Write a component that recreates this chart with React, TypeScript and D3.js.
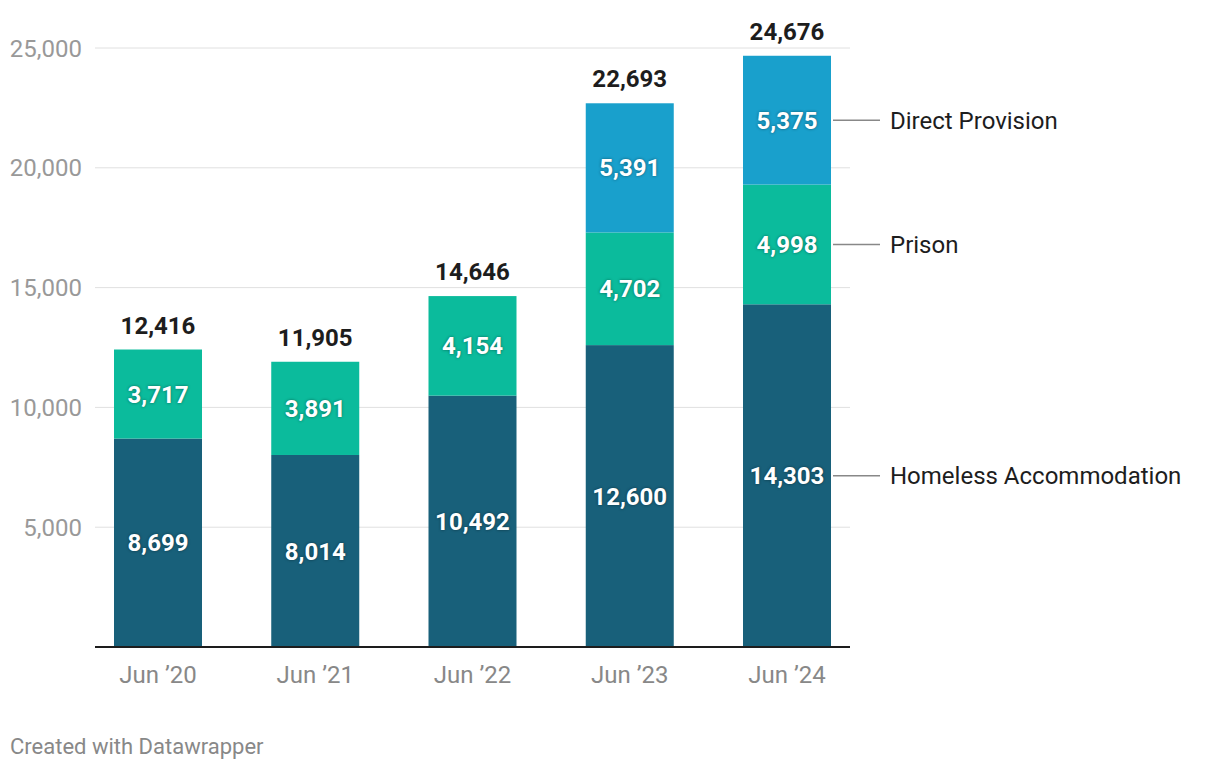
import React from "react";
import * as d3 from "d3";

const categories = ["Jun ’20", "Jun ’21", "Jun ’22", "Jun ’23", "Jun ’24"];
const homeless = [8699, 8014, 10492, 12600, 14303];
const prison = [3717, 3891, 4154, 4702, 4998];
const directProvision = [0, 0, 0, 5391, 5375];
const seriesNames = ["Homeless Accommodation", "Prison", "Direct Provision"];
const seriesColors = ["#18607a", "#0bbb9c", "#19a0cc"];
const yTicks = [5000, 10000, 15000, 20000, 25000];

const W = 1220;
const H = 770;
const FONT = "Roboto, 'Noto Sans', sans-serif";

export default function App() {
  const y = d3.scaleLinear().domain([0, 25000]).range([647, 48]);
  const x = d3.scalePoint<string>().domain(categories).range([158, 787]);
  const barW = 88;
  const fmt = d3.format(",");
  const rows = categories.map((c, i) => ({
    cat: c,
    h: homeless[i],
    p: prison[i],
    d: directProvision[i],
  }));
  const stack = d3.stack<any>().keys(["h", "p", "d"])(rows);
  const totals = rows.map((r) => r.h + r.p + r.d);
  const lastIdx = categories.length - 1;

  return (
    <svg
      width={W}
      height={H}
      style={{ position: "absolute", left: 0, top: 0, background: "#fff" }}
      fontFamily={FONT}
    >
      {yTicks.map((t) => (
        <g key={t}>
          <line x1={95} x2={850} y1={y(t)} y2={y(t)} stroke="#e0e0e0" strokeWidth={1} />
          <text x={82} y={y(t)} dy="0.36em" textAnchor="end" fontSize={24} fill="#999">
            {fmt(t)}
          </text>
        </g>
      ))}
      {stack.map((s, si) => (
        <g key={si}>
          {s.map((seg, i) => {
            const v = seg[1] - seg[0];
            if (v <= 0) return null;
            const cx = x(categories[i])!;
            return (
              <g key={i}>
                <rect
                  x={cx - barW / 2}
                  width={barW}
                  y={y(seg[1])}
                  height={y(seg[0]) - y(seg[1])}
                  fill={seriesColors[si]}
                />
                <text
                  x={cx}
                  y={(y(seg[0]) + y(seg[1])) / 2}
                  dy="0.36em"
                  textAnchor="middle"
                  fontSize={24}
                  fontWeight={700}
                  fill="#fff"
                  style={{ textShadow: "0 0 3px rgba(0,0,0,0.45)" }}
                >
                  {fmt(v)}
                </text>
              </g>
            );
          })}
        </g>
      ))}
      {totals.map((t, i) => (
        <text
          key={i}
          x={x(categories[i])!}
          y={y(t) - 16}
          textAnchor="middle"
          fontSize={24}
          fontWeight={700}
          fill="#1d1d1d"
        >
          {fmt(t)}
        </text>
      ))}
      <line x1={95} x2={850} y1={647} y2={647} stroke="#1d1d1d" strokeWidth={2} />
      {categories.map((c) => (
        <text key={c} x={x(c)!} y={683} textAnchor="middle" fontSize={24} fill="#888">
          {c}
        </text>
      ))}
      {stack.map((s, si) => {
        const seg = s[lastIdx];
        const ym = (y(seg[0]) + y(seg[1])) / 2;
        const right = x(categories[lastIdx])! + barW / 2;
        return (
          <g key={si}>
            <line x1={right + 2} x2={880} y1={ym} y2={ym} stroke="#888" strokeWidth={1.5} />
            <text x={890} y={ym} dy="0.36em" fontSize={24} fill="#1d1d1d">
              {seriesNames[si]}
            </text>
          </g>
        );
      })}
      <text x={10} y={754} fontSize={22} fill="#888">
        Created with Datawrapper
      </text>
    </svg>
  );
}
